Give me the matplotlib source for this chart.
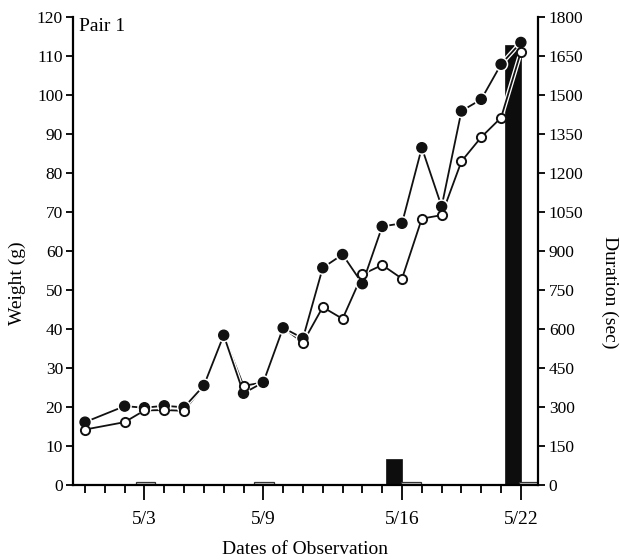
import matplotlib
matplotlib.use("Agg")
import matplotlib.pyplot as plt
import matplotlib.patheffects as pe

plt.rcParams['font.family'] = ['Liberation Serif', 'DejaVu Serif']

# Day numbers counted in May (0 = April 30)
days = [0, 2, 3, 4, 5, 6, 7, 8, 9, 10, 11, 12, 13, 14, 15, 16, 17, 18, 19, 20, 21, 22]
weight_filled = [16.0, 20.1, 19.7, 20.2, 19.8, 25.4, 38.3, 23.4, 26.2, 40.2, 37.5,
                 55.6, 59.0, 51.5, 66.2, 67.0, 86.4, 71.3, 95.8, 98.8, 107.8, 113.4]
weight_open = [14.1, 16.0, 19.0, 19.1, 18.9, 25.4, 38.3, 25.3, 26.2, 40.2, 36.4,
               45.5, 42.5, 53.9, 56.3, 52.8, 68.2, 69.1, 82.9, 89.1, 94.1, 111.0]
# indices of the open-circle readings that are not hidden under filled ones
open_marker_idx = [0, 1, 2, 3, 4, 7, 10, 11, 12, 13, 14, 15, 16, 17, 18, 19, 20, 21]

# Duration bars (sec)
bar_days = [3.05, 9.05, 15.6, 16.45, 21.6, 22.4]
bar_secs = [8, 8, 100, 8, 1690, 8]

tick_days = list(range(0, 23))
major_days = [3, 9, 16, 22]
major_labels = ['5/3', '5/9', '5/16', '5/22']
weight_ticks = list(range(0, 121, 10))
duration_ticks = list(range(0, 1801, 150))

fig = plt.figure(figsize=(6.2, 5.6), dpi=100)
ax = fig.add_axes([0.1173, 0.1348, 0.75, 0.8354])
ax2 = ax.twinx()
ax.set_zorder(ax2.get_zorder() + 1)
ax.patch.set_visible(False)

# bars on the duration axis
for d, s in zip(bar_days, bar_secs):
    if s > 20:
        ax2.bar(d, s, width=0.82, color='#0d0d0d', edgecolor='#0d0d0d', linewidth=0.5)
    else:
        ax2.bar(d, s, width=1.0, color='#cfcfcf', edgecolor='#333333', linewidth=0.9)

stroke = [pe.withStroke(linewidth=3.2, foreground='white')]
ax.plot(days, weight_open, color='#111111', lw=1.3, zorder=2, path_effects=stroke)
ax.plot(days, weight_filled, color='#111111', lw=1.3, marker='o', ms=7.2,
        mfc='#111111', mec='#111111', zorder=3, path_effects=stroke)
ax.plot(days, weight_open, color='none', marker='o', ms=6.6, mfc='white',
        mec='#111111', mew=1.4, markevery=open_marker_idx, zorder=4)

ax.set_xlim(-0.62, 22.85)
ax.set_ylim(0, 120)
ax2.set_ylim(0, 1800)

ax.set_xticks(major_days)
ax.set_xticklabels(major_labels, fontsize=14)
ax.set_xticks([d for d in tick_days if d not in major_days], minor=True)
ax.tick_params(axis='x', which='major', direction='out', length=11, width=1.3, pad=8)
ax.tick_params(axis='x', which='minor', direction='out', length=6, width=1.3)

ax.set_yticks(weight_ticks)
ax.set_yticklabels([str(v) for v in weight_ticks], fontsize=12.5)
ax.tick_params(axis='y', direction='out', length=5, width=1.3, pad=2)

ax2.set_yticks(duration_ticks)
ax2.set_yticklabels([str(v) for v in duration_ticks], fontsize=12.5)
ax2.tick_params(axis='y', direction='out', length=5, width=1.3, pad=3)

for a in (ax, ax2):
    a.spines['top'].set_visible(False)
    for s in ('left', 'right', 'bottom'):
        a.spines[s].set_linewidth(1.6)
ax.spines['right'].set_visible(False)
ax2.spines['left'].set_visible(False)
ax2.spines['bottom'].set_visible(False)

ax.set_ylabel('Weight (g)', fontsize=14)
ax.yaxis.set_label_coords(-0.1, 0.43)
ax2.set_ylabel('Duration (sec)', fontsize=14, rotation=-90, va='bottom')
ax2.yaxis.set_label_coords(1.135, 0.41)
ax.set_xlabel('Dates of Observation', fontsize=14)
ax.xaxis.set_label_coords(0.5, -0.12)

ax.text(0.014, 0.998, 'Pair 1', transform=ax.transAxes, fontsize=14,
        ha='left', va='top')

fig.savefig('out.png', dpi=100)
